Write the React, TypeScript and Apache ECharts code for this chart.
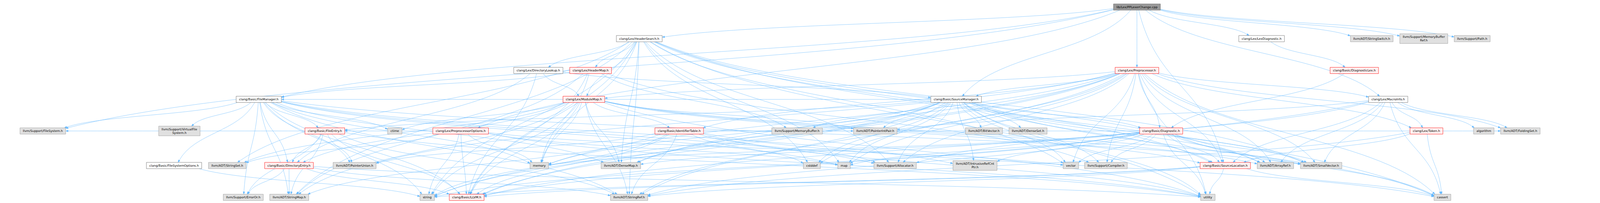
import { useEffect, useRef } from "react"
import * as echarts from "echarts"

// include graph of lib/Lex/PPLexerChange.cpp
const nodeLabels = [
  "lib/Lex/PPLexerChange.cpp",
  "clang/Lex/HeaderSearch.h",
  "clang/Lex/LexDiagnostic.h",
  "llvm/ADT/StringSwitch.h",
  "llvm/Support/MemoryBuffer\nRef.h",
  "llvm/Support/Path.h",
  "clang/Lex/DirectoryLookup.h",
  "clang/Lex/HeaderMap.h",
  "clang/Lex/Preprocessor.h",
  "clang/Basic/DiagnosticLex.h",
  "clang/Basic/FileManager.h",
  "clang/Lex/ModuleMap.h",
  "clang/Basic/SourceManager.h",
  "clang/Lex/MacroInfo.h",
  "llvm/Support/FileSystem.h",
  "llvm/Support/VirtualFile\nSystem.h",
  "clang/Basic/FileEntry.h",
  "ctime",
  "clang/Lex/PreprocessorOptions.h",
  "clang/Basic/IdentifierTable.h",
  "llvm/Support/MemoryBuffer.h",
  "llvm/ADT/PointerIntPair.h",
  "llvm/ADT/BitVector.h",
  "llvm/ADT/DenseSet.h",
  "clang/Basic/Diagnostic.h",
  "clang/Lex/Token.h",
  "algorithm",
  "llvm/ADT/FoldingSet.h",
  "clang/Basic/FileSystemOptions.h",
  "llvm/ADT/StringSet.h",
  "clang/Basic/DirectoryEntry.h",
  "llvm/ADT/PointerUnion.h",
  "memory",
  "llvm/ADT/DenseMap.h",
  "cstddef",
  "map",
  "llvm/Support/Allocator.h",
  "llvm/ADT/IntrusiveRefCnt\nPtr.h",
  "vector",
  "llvm/Support/Compiler.h",
  "clang/Basic/SourceLocation.h",
  "llvm/ADT/ArrayRef.h",
  "llvm/ADT/SmallVector.h",
  "llvm/Support/ErrorOr.h",
  "llvm/ADT/StringMap.h",
  "string",
  "clang/Basic/LLVM.h",
  "llvm/ADT/StringRef.h",
  "utility",
  "cassert",
]

// root = file itself, plain = documented header, trunc = header with hidden includes, ext = external
const nodeKinds = [
  "root",
  "plain", "plain", "ext", "ext", "ext",
  "plain", "trunc", "trunc", "trunc",
  "plain", "trunc", "plain", "plain",
  "ext", "ext", "trunc", "ext", "trunc", "trunc", "ext", "ext", "ext", "ext", "trunc", "trunc", "ext", "ext",
  "plain", "ext", "trunc", "ext", "ext", "ext", "ext", "ext", "ext", "ext", "ext", "ext", "trunc", "ext", "ext",
  "ext", "ext", "ext", "trunc", "ext", "ext", "ext",
]

const nodeX = [
  4697,
  2641, 5212, 5667, 5882, 6082,
  2224, 2440, 4697, 5595,
  1069, 2412, 3950, 5735,
  177, 741, 1342, 1631, 1903, 2806, 3293, 3616, 4065, 4247, 4797, 5893, 6130, 6281,
  719, 939, 1194, 1465, 2228, 2565, 3354, 3487, 3698, 4028, 4424, 4569, 5062, 5269, 5458,
  1005, 1195, 1765, 1928, 2599, 4990, 5959,
]

const nodeY = [
  18,
  99, 99, 99, 99, 99,
  180.5, 180.5, 180.5, 180.5,
  254.5, 254.5, 254.5, 254.5,
  335.5, 335.5, 335.5, 335.5, 335.5, 335.5, 335.5, 335.5, 335.5, 335.5, 335.5, 335.5, 335.5, 335.5,
  424, 424, 424, 424, 424, 424, 424, 424, 424, 424, 424, 424, 424, 424, 424,
  505.5, 505.5, 505.5, 505.5, 505.5, 505.5, 505.5,
]

const includes: [string, string[]][] = [
  ["lib/Lex/PPLexerChange.cpp", [
    "clang/Basic/FileManager.h", "clang/Basic/SourceLocation.h", "clang/Basic/SourceManager.h",
    "clang/Lex/HeaderSearch.h", "clang/Lex/LexDiagnostic.h", "clang/Lex/MacroInfo.h",
    "clang/Lex/Preprocessor.h", "clang/Lex/PreprocessorOptions.h", "llvm/ADT/StringSwitch.h",
    "llvm/Support/FileSystem.h", "llvm/Support/MemoryBufferRef.h", "llvm/Support/Path.h",
  ]],
  ["clang/Lex/HeaderSearch.h", [
    "clang/Lex/DirectoryLookup.h", "clang/Lex/HeaderMap.h", "clang/Lex/ModuleMap.h",
    "clang/Basic/SourceLocation.h", "clang/Basic/LLVM.h", "llvm/ADT/ArrayRef.h", "llvm/ADT/DenseMap.h",
    "llvm/ADT/SmallVector.h", "llvm/ADT/StringMap.h", "llvm/ADT/StringRef.h", "llvm/ADT/StringSet.h",
    "llvm/Support/Allocator.h", "cassert", "cstddef", "map", "memory", "string", "utility", "vector",
  ]],
  ["clang/Lex/LexDiagnostic.h", ["clang/Basic/DiagnosticLex.h"]],
  ["clang/Basic/DiagnosticLex.h", ["clang/Basic/Diagnostic.h"]],
  ["clang/Lex/DirectoryLookup.h", [
    "clang/Basic/LLVM.h", "clang/Basic/SourceManager.h", "clang/Lex/ModuleMap.h", "clang/Basic/DirectoryEntry.h",
  ]],
  ["clang/Lex/HeaderMap.h", [
    "clang/Basic/FileManager.h", "clang/Basic/LLVM.h", "llvm/ADT/StringMap.h", "llvm/Support/Compiler.h",
    "llvm/Support/MemoryBuffer.h", "memory",
  ]],
  ["clang/Lex/ModuleMap.h", [
    "clang/Basic/IdentifierTable.h", "clang/Basic/SourceLocation.h", "clang/Basic/LLVM.h", "llvm/ADT/ArrayRef.h",
    "llvm/ADT/DenseMap.h", "llvm/ADT/PointerIntPair.h", "llvm/ADT/SmallVector.h", "llvm/ADT/StringMap.h",
    "llvm/ADT/StringRef.h", "llvm/ADT/StringSet.h", "ctime", "memory", "string", "utility",
    "clang/Basic/DirectoryEntry.h",
  ]],
  ["clang/Lex/Preprocessor.h", [
    "clang/Basic/Diagnostic.h", "clang/Basic/IdentifierTable.h", "clang/Basic/LLVM.h", "clang/Basic/SourceLocation.h",
    "clang/Basic/SourceManager.h", "clang/Lex/MacroInfo.h", "clang/Lex/ModuleMap.h", "clang/Lex/Token.h",
    "llvm/ADT/ArrayRef.h", "llvm/ADT/DenseMap.h", "llvm/ADT/FoldingSet.h", "llvm/ADT/PointerUnion.h",
    "llvm/ADT/SmallVector.h", "llvm/ADT/StringRef.h", "llvm/Support/Allocator.h", "llvm/Support/Compiler.h",
    "cassert", "cstddef", "map", "memory", "string", "utility", "vector",
  ]],
  ["clang/Basic/FileManager.h", [
    "clang/Basic/DirectoryEntry.h", "clang/Basic/FileEntry.h", "clang/Basic/FileSystemOptions.h",
    "clang/Basic/LLVM.h", "llvm/ADT/DenseMap.h", "llvm/ADT/IntrusiveRefCntPtr.h", "llvm/ADT/PointerUnion.h",
    "llvm/ADT/SmallVector.h", "llvm/ADT/StringMap.h", "llvm/ADT/StringRef.h", "llvm/Support/Allocator.h",
    "llvm/Support/ErrorOr.h", "llvm/Support/FileSystem.h", "llvm/Support/VirtualFileSystem.h",
    "ctime", "map", "memory", "string",
  ]],
  ["clang/Basic/SourceManager.h", [
    "clang/Basic/Diagnostic.h", "clang/Basic/FileEntry.h", "clang/Basic/FileManager.h", "clang/Basic/LLVM.h",
    "clang/Basic/SourceLocation.h", "llvm/ADT/ArrayRef.h", "llvm/ADT/BitVector.h", "llvm/ADT/DenseMap.h",
    "llvm/ADT/DenseSet.h", "llvm/ADT/IntrusiveRefCntPtr.h", "llvm/ADT/PointerIntPair.h", "llvm/ADT/SmallVector.h",
    "llvm/ADT/StringRef.h", "llvm/Support/Allocator.h", "llvm/Support/Compiler.h", "llvm/Support/MemoryBuffer.h",
    "cassert", "cstddef", "map", "memory", "string", "utility", "vector",
  ]],
  ["clang/Lex/MacroInfo.h", [
    "clang/Basic/LLVM.h", "clang/Basic/SourceLocation.h", "clang/Lex/Token.h", "llvm/ADT/ArrayRef.h",
    "llvm/ADT/FoldingSet.h", "llvm/ADT/PointerIntPair.h", "llvm/ADT/SmallVector.h", "llvm/Support/Allocator.h",
    "algorithm", "cassert",
  ]],
  ["clang/Basic/FileEntry.h", [
    "clang/Basic/DirectoryEntry.h", "clang/Basic/LLVM.h", "llvm/ADT/PointerUnion.h", "llvm/ADT/StringMap.h",
    "llvm/ADT/StringRef.h", "llvm/Support/ErrorOr.h", "llvm/Support/FileSystem.h", "utility",
  ]],
  ["clang/Basic/DirectoryEntry.h", [
    "clang/Basic/LLVM.h", "llvm/ADT/StringMap.h", "llvm/ADT/StringRef.h", "llvm/Support/ErrorOr.h", "utility",
  ]],
  ["clang/Basic/FileSystemOptions.h", ["string"]],
  ["clang/Lex/PreprocessorOptions.h", [
    "clang/Basic/FileEntry.h", "clang/Basic/LLVM.h", "llvm/ADT/StringSet.h", "map", "memory", "string",
    "utility", "vector",
  ]],
  ["clang/Basic/IdentifierTable.h", [
    "clang/Basic/LLVM.h", "llvm/ADT/FoldingSet.h", "llvm/ADT/PointerIntPair.h", "llvm/ADT/PointerUnion.h",
    "llvm/ADT/StringMap.h", "llvm/ADT/StringRef.h", "llvm/Support/Allocator.h", "cassert", "cstddef",
    "string", "utility",
  ]],
  ["clang/Basic/Diagnostic.h", [
    "clang/Basic/SourceLocation.h", "clang/Basic/LLVM.h", "llvm/ADT/ArrayRef.h", "llvm/ADT/DenseMap.h",
    "llvm/ADT/IntrusiveRefCntPtr.h", "llvm/ADT/SmallVector.h", "llvm/ADT/StringRef.h", "llvm/Support/Compiler.h",
    "cassert", "map", "memory", "string", "utility", "vector",
  ]],
  ["clang/Basic/SourceLocation.h", ["clang/Basic/LLVM.h", "llvm/ADT/StringRef.h", "cassert", "string", "utility"]],
  ["clang/Lex/Token.h", ["clang/Basic/SourceLocation.h", "llvm/ADT/StringRef.h", "cassert"]],
]

// the reference is laid out on a 6610 x 520 sheet
const SHEET_W = 6610
const SHEET_H = 520
const FONT_SIZE = 12.6
const FONT_FAMILY = '"DejaVu Sans", sans-serif'

const kindStyle: Record<string, { fill: string; stroke: string }> = {
  root: { fill: "#999999", stroke: "#666666" },
  plain: { fill: "#ffffff", stroke: "#666666" },
  trunc: { fill: "#fff0f0", stroke: "#ff0000" },
  ext: { fill: "#e0e0e0", stroke: "#999999" },
}

const EDGE_COLOR = "#63b8ff"

function measureBoxes(k: number) {
  const ctx = document.createElement("canvas").getContext("2d")
  return nodeLabels.map((label) => {
    const lines = label.split("\n")
    let w = 0
    if (ctx) {
      ctx.font = `${FONT_SIZE * k}px ${FONT_FAMILY}`
      w = Math.max(...lines.map((l) => ctx.measureText(l).width))
    } else {
      w = Math.max(...lines.map((l) => l.length * 7.2 * k))
    }
    return { w: w + 24 * k, h: (lines.length > 1 ? 40 : 26) * k }
  })
}

// point where the segment from the box centre towards (tx, ty) leaves the box
function clipToBox(cx: number, cy: number, hw: number, hh: number, tx: number, ty: number) {
  const dx = tx - cx
  const dy = ty - cy
  const sx = dx === 0 ? Infinity : hw / Math.abs(dx)
  const sy = dy === 0 ? Infinity : hh / Math.abs(dy)
  const t = Math.min(sx, sy, 1)
  return [cx + dx * t, cy + dy * t]
}

export default function App() {
  const chartRef = useRef<HTMLDivElement>(null)

  useEffect(() => {
    if (!chartRef.current) return
    document.body.style.margin = "0"
    document.documentElement.style.overflow = "hidden"

    const chart = echarts.init(chartRef.current, null, { renderer: "svg" })
    const k = chart.getWidth() / SHEET_W

    const boxes = measureBoxes(k)
    const keyOf = (l: string) => l.replace("\n", "")
    const indexOf: Record<string, number> = {}
    nodeLabels.forEach((l, i) => (indexOf[keyOf(l)] = i))

    const edges: number[][] = []
    includes.forEach(([from, tos]) => {
      tos.forEach((to) => {
        if (indexOf[from] != null && indexOf[to] != null) edges.push([indexOf[from], indexOf[to]])
      })
    })

    const option = {
      animation: false,
      backgroundColor: "#ffffff",
      grid: { left: 0, right: 0, top: 0, bottom: 0 },
      xAxis: { type: "value", min: 0, max: SHEET_W, show: false },
      yAxis: { type: "value", min: 0, max: SHEET_H, inverse: true, show: false },
      series: [
        {
          type: "custom",
          coordinateSystem: "cartesian2d",
          silent: true,
          z: 1,
          data: edges,
          renderItem: (_params: any, api: any) => {
            const a = api.value(0)
            const b = api.value(1)
            const pa = api.coord([nodeX[a], nodeY[a]])
            const pb = api.coord([nodeX[b], nodeY[b]])
            const s = clipToBox(pa[0], pa[1], boxes[a].w / 2, boxes[a].h / 2, pb[0], pb[1])
            const e = clipToBox(pb[0], pb[1], boxes[b].w / 2, boxes[b].h / 2, pa[0], pa[1])
            const dx = e[0] - s[0]
            const dy = e[1] - s[1]
            const c1 = [s[0] + dx * 0.22, s[1] + dy * 0.5]
            const c2 = [e[0] - dx * 0.22, e[1] - dy * 0.5]
            let ux = e[0] - c2[0]
            let uy = e[1] - c2[1]
            const len = Math.hypot(ux, uy) || 1
            ux /= len
            uy /= len
            const al = 10 * k
            const aw = 3.6 * k
            const base = [e[0] - ux * al, e[1] - uy * al]
            return {
              type: "group",
              children: [
                {
                  type: "bezierCurve",
                  shape: {
                    x1: s[0], y1: s[1],
                    cpx1: c1[0], cpy1: c1[1],
                    cpx2: c2[0], cpy2: c2[1],
                    x2: base[0], y2: base[1],
                  },
                  style: { stroke: EDGE_COLOR, fill: "none", lineWidth: 1.1 * k },
                },
                {
                  type: "polygon",
                  shape: {
                    points: [
                      [e[0], e[1]],
                      [base[0] - uy * aw, base[1] + ux * aw],
                      [base[0] + uy * aw, base[1] - ux * aw],
                    ],
                  },
                  style: { fill: EDGE_COLOR, stroke: EDGE_COLOR, lineWidth: k },
                },
              ],
            }
          },
        },
        {
          type: "custom",
          coordinateSystem: "cartesian2d",
          silent: true,
          z: 2,
          data: nodeLabels.map((_, i) => [nodeX[i], nodeY[i], i]),
          renderItem: (_params: any, api: any) => {
            const i = api.value(2)
            const p = api.coord([api.value(0), api.value(1)])
            const { w, h } = boxes[i]
            const st = kindStyle[nodeKinds[i]]
            return {
              type: "group",
              children: [
                {
                  type: "rect",
                  shape: { x: p[0] - w / 2, y: p[1] - h / 2, width: w, height: h },
                  style: { fill: st.fill, stroke: st.stroke, lineWidth: 1.3 * k },
                },
                {
                  type: "text",
                  style: {
                    text: nodeLabels[i],
                    x: p[0],
                    y: p[1] + 0.5 * k,
                    align: "center",
                    verticalAlign: "middle",
                    fontSize: FONT_SIZE * k,
                    fontFamily: FONT_FAMILY,
                    lineHeight: 15 * k,
                    fill: "#000000",
                  },
                },
              ],
            }
          },
        },
      ],
    }

    chart.setOption(option)

    return () => {
      chart.dispose()
    }
  }, [])

  return <div ref={chartRef} style={{ width: "100vw", height: "100vh" }} />
}
